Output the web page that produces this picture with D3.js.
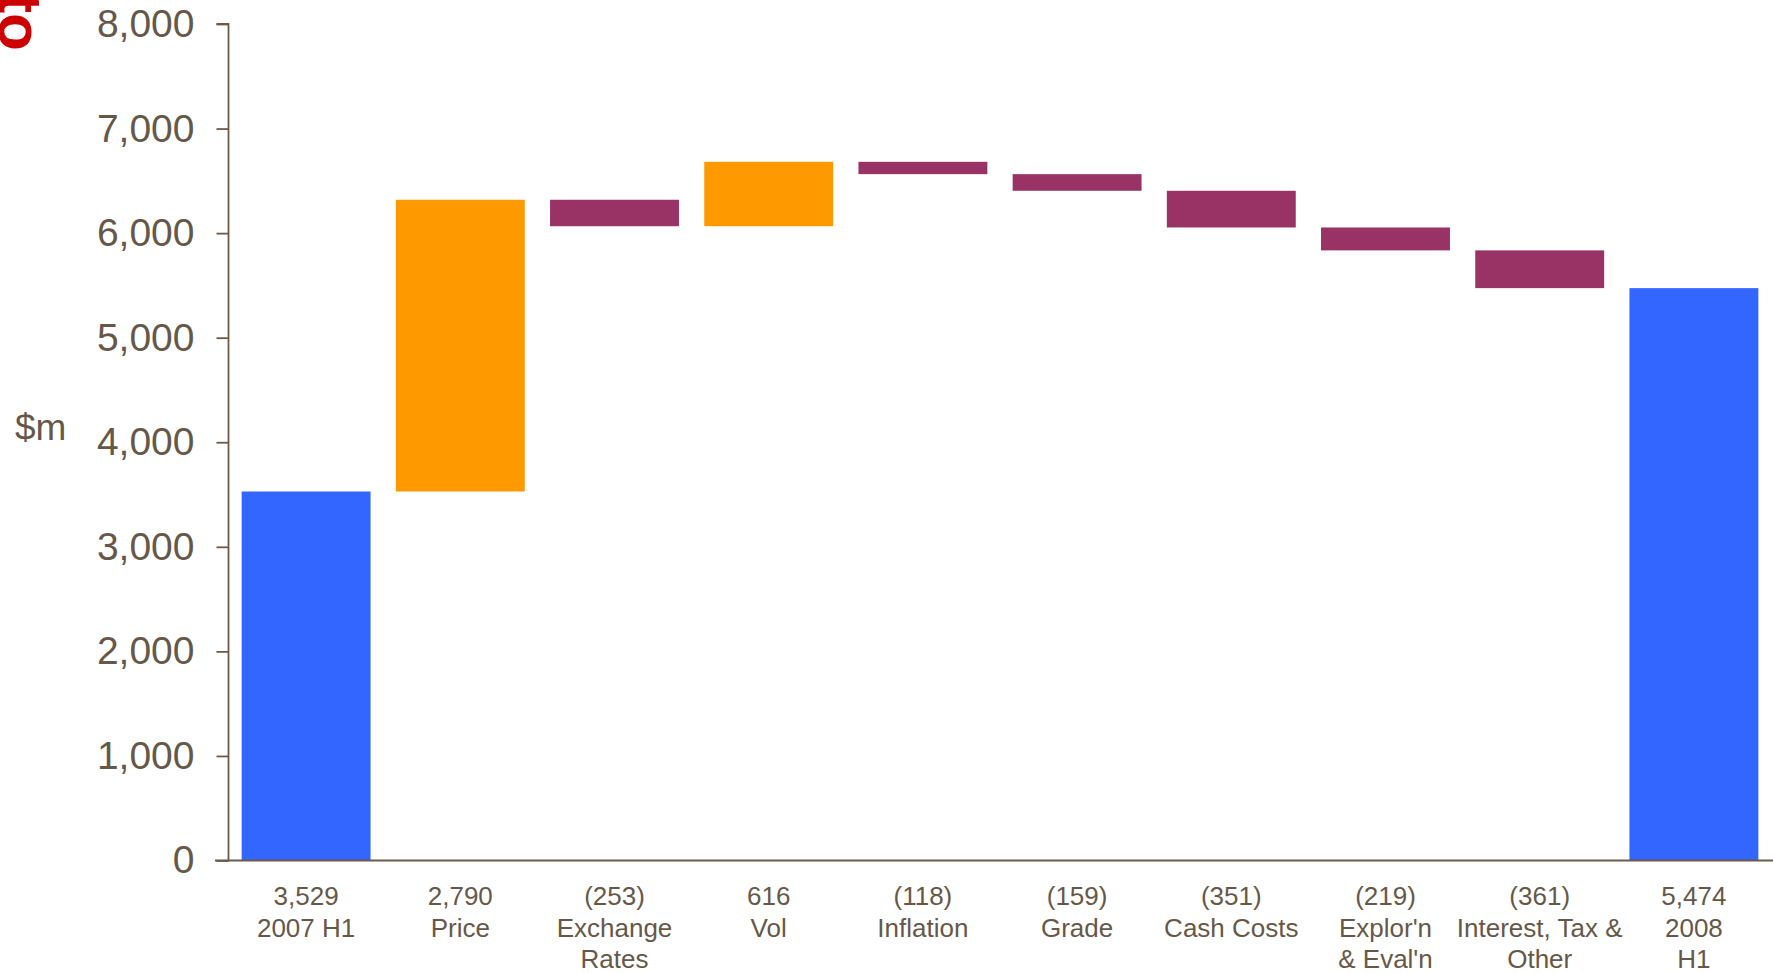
<!DOCTYPE html>
<html>
<head>
<meta charset="utf-8">
<script src="https://cdn.jsdelivr.net/npm/d3@7"></script>
<style>
  html, body { margin: 0; padding: 0; background: #fff; overflow: hidden; }
  svg { display: block; font-family: "Liberation Sans", Arial, sans-serif; }
</style>
</head>
<body>
<svg id="chart" width="1773" height="973"></svg>
<script>
// ---- data ----
const categories = [
  ["2007 H1"], ["Price"], ["Exchange", "Rates"], ["Vol"], ["Inflation"],
  ["Grade"], ["Cash Costs"], ["Explor'n", "& Eval'n"], ["Interest, Tax &", "Other"], ["2008", "H1"]
];
const changes = [3529, 2790, -253, 616, -118, -159, -351, -219, -361, 5474];
const kinds = ["total", "up", "down", "up", "down", "down", "down", "down", "down", "total"];
const yTicks = [0, 1000, 2000, 3000, 4000, 5000, 6000, 7000, 8000];
const yLabel = "$m";
const cornerText = "to";

// ---- build waterfall ----
let running = 0;
const bars = changes.map((v, i) => {
  let y0, y1;
  if (kinds[i] === "total") { y0 = 0; y1 = v; running = v; }
  else { y0 = running; y1 = running + v; running = y1; }
  return { i, v, kind: kinds[i], lo: Math.min(y0, y1), hi: Math.max(y0, y1), lines: categories[i] };
});

const colors = { total: "#3366ff", up: "#ff9900", down: "#993366" };
const textColor = "#665849";
const axisColor = "#6b5b4b";

const svg = d3.select("#chart");
const x = d3.scaleBand().domain(d3.range(categories.length))
  .range([229, 1771]).paddingInner(0.164).paddingOuter(0.082);
const y = d3.scaleLinear().domain([0, 8000]).range([860.5, 24]);

// bars
svg.append("g").selectAll("rect").data(bars).join("rect")
  .attr("x", d => x(d.i))
  .attr("width", x.bandwidth())
  .attr("y", d => y(d.hi))
  .attr("height", d => y(d.lo) - y(d.hi))
  .attr("fill", d => colors[d.kind]);

// y axis
const yAxis = d3.axisLeft(y).tickValues(yTicks).tickSize(12).tickPadding(22)
  .tickFormat(d3.format(","));
const gy = svg.append("g").attr("transform", "translate(228.5,0)").call(yAxis);
gy.select(".domain").attr("stroke", axisColor).attr("stroke-width", 1.8).attr("d", `M-12,${y(8000)}H0V${y(0)}`);
gy.selectAll(".tick line").attr("stroke", axisColor).attr("stroke-width", 1.8);
gy.selectAll(".tick text").attr("fill", textColor).attr("font-size", 39)
  .attr("font-family", "Liberation Sans, Arial, sans-serif");

// x axis line
const xAxis = d3.axisBottom(x).tickSize(0).tickFormat("");
const gx = svg.append("g").attr("transform", `translate(0,${y(0)})`).call(xAxis);
gx.select(".domain").attr("stroke", axisColor).attr("stroke-width", 1.8).attr("d", "M215,0H1773");

// category labels
const fmt = v => v < 0 ? `(${d3.format(",")(-v)})` : d3.format(",")(v);
const lab = svg.append("g").selectAll("text").data(bars).join("text")
  .attr("transform", d => `translate(${x(d.i) + x.bandwidth() / 2},905)`)
  .attr("text-anchor", "middle")
  .attr("fill", textColor)
  .attr("font-size", 26);
lab.each(function(d) {
  const t = d3.select(this);
  const lines = [fmt(d.v)].concat(d.lines);
  lines.forEach((s, k) => t.append("tspan").attr("x", 0).attr("y", k * 31.5).text(s));
});

// y label
svg.append("text").attr("x", 15).attr("y", 440).attr("fill", textColor)
  .attr("font-size", 37).text(yLabel);

// red corner text, clipped by the top edge as in the reference
svg.append("text").attr("transform", "translate(-1,51) rotate(90)")
  .attr("text-anchor", "end").attr("fill", "#cc0000")
  .attr("font-weight", "bold").attr("font-size", 62).text(cornerText);
</script>
</body>
</html>
